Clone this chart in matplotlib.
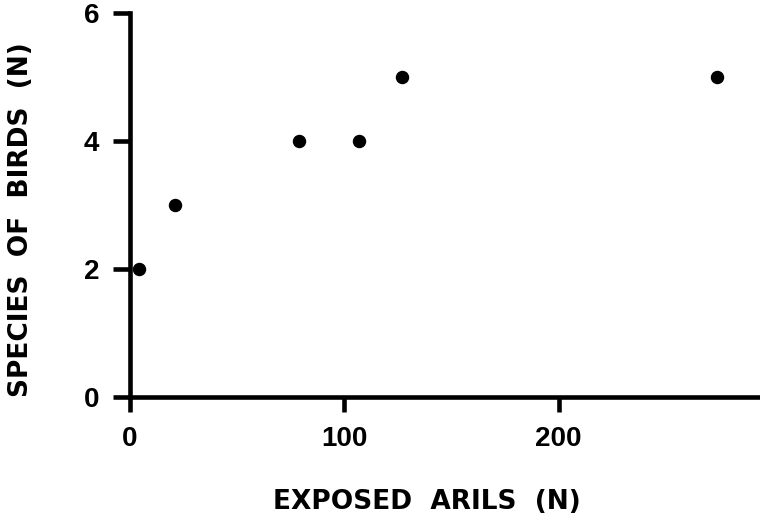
import matplotlib
matplotlib.use("Agg")
import matplotlib.pyplot as plt

exposed_arils = [4, 21, 79, 107, 127, 274]
species_of_birds = [2, 3, 4, 4, 5, 5]
x_ticks = [0, 100, 200]
y_ticks = [0, 2, 4, 6]

plt.rcParams['font.family'] = ['DejaVu Sans']
plt.rcParams['font.weight'] = 'bold'

fig = plt.figure(figsize=(7.6, 5.19), dpi=100)
ax = fig.add_axes([130/760, 122/519, 1 - 130/760, (397-13)/519])
ax.scatter(exposed_arils, species_of_birds, s=75, color='black', zorder=3, clip_on=False)
ax.set_xlim(0, 294)
ax.set_ylim(0, 6)
ax.set_xticks(x_ticks)
ax.set_yticks(y_ticks)
for s in ['top', 'right']:
    ax.spines[s].set_visible(False)
for s in ['left', 'bottom']:
    ax.spines[s].set_linewidth(3.3)
ax.tick_params(axis='x', direction='out', length=11, width=3.3, labelsize=20, pad=10)
ax.tick_params(axis='y', direction='out', length=12, width=3.3, labelsize=20, pad=10)
for lab in ax.get_xticklabels() + ax.get_yticklabels():
    lab.set_fontweight('bold')
    lab.set_family(['Liberation Sans', 'DejaVu Sans'])
ax.set_xlabel('EXPOSED  ARILS  (N)', fontsize=19, fontweight='bold')
ax.set_ylabel('SPECIES  OF  BIRDS  (N)', fontsize=19, fontweight='bold')
ax.xaxis.set_label_coords((427 - 130) / 630, (397 - 502) / 384)
ax.xaxis.label.set_va('center')
ax.xaxis.label.set_ha('center')
ax.yaxis.set_label_coords((21 - 130) / 630, (397 - 220) / 384)
ax.yaxis.label.set_va('center')
ax.yaxis.label.set_ha('center')
fig.savefig('out.png', dpi=100)
